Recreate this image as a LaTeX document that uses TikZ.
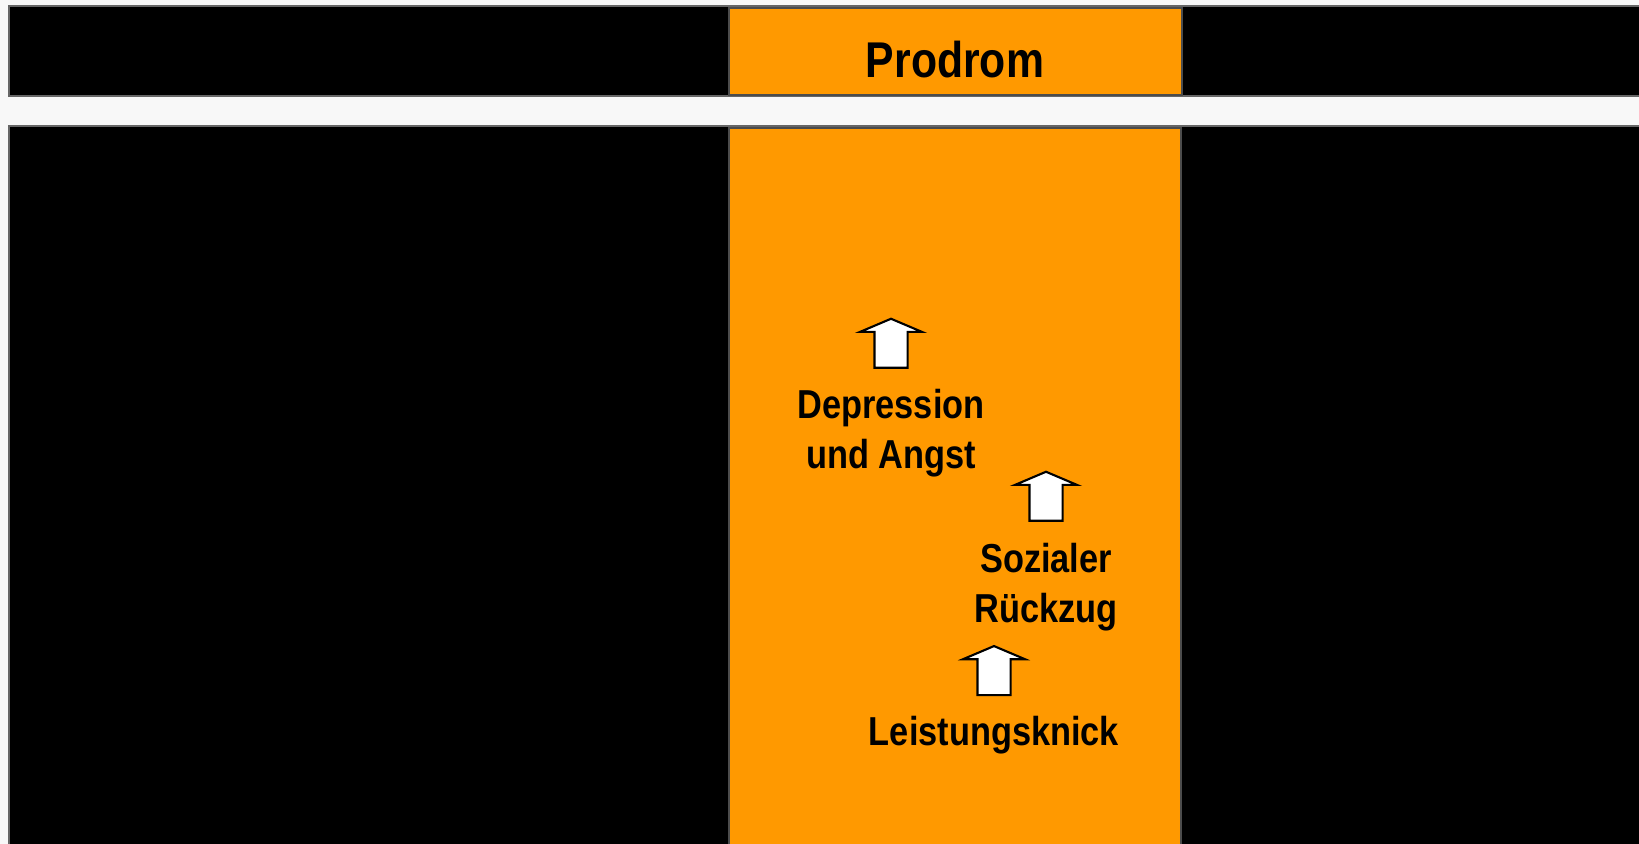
\documentclass[tikz,border=0pt]{standalone}
\usepackage{fontspec}
\setmainfont{Liberation Sans}[FakeStretch=0.85]
\usetikzlibrary{positioning,shapes.arrows}
\definecolor{phaseorange}{HTML}{FF9900}
\definecolor{bggrey}{HTML}{F8F8F8}
\tikzstyle{every node}+=[inner sep=0pt,outer sep=0pt]
\tikzstyle{bar}=[fill=black,draw=black!60,line width=0.3pt]
\tikzstyle{phase}=[fill=phaseorange,draw=black!70,line width=0.3pt]
\tikzstyle{lbl}=[font=\fontsize{11.5}{14.4}\selectfont\bfseries,align=center]
\tikzstyle{uparrow}=[single arrow,draw=black,fill=white,line width=0.6pt,rotate=90,
  inner xsep=0pt,inner ysep=0.155cm,minimum height=0.49cm,
  single arrow head extend=0.145cm,single arrow tip angle=134]

\begin{document}
\begin{tikzpicture}

\fill[bggrey] (0,0) rectangle (16.39,-8.44);
\useasboundingbox (0,0) rectangle (16.39,-8.44);

\draw[bar] (0.09,-0.06) rectangle (16.5,-0.96);
\draw[bar] (0.09,-1.26) rectangle (16.5,-8.6);
\draw[phase] (7.29,-0.08) rectangle (11.82,-0.95);
\draw[phase] (7.29,-1.28) rectangle (11.81,-8.6);

\node[font=\fontsize{14.3}{17}\selectfont\bfseries] (prodrom) at (9.55,-0.6) {Prodrom};

\node[lbl] (lk) at (9.94,-7.35) {Leistungsknick};
\node[lbl,on grid,above right=1.48cm and 0.52cm of lk] (sr) {Sozialer\\R\"uckzug};
\node[lbl,on grid,above left=1.54cm and 1.55cm of sr] (da) {Depression\\und Angst};

\node[uparrow,above=0.21cm of lk.north,anchor=tail] (p1) {};
\node[uparrow,above=0.22cm of sr.north,anchor=tail] (p2) {};
\node[uparrow,above=0.21cm of da.north,anchor=tail] (p3) {};

\end{tikzpicture}
\end{document}
